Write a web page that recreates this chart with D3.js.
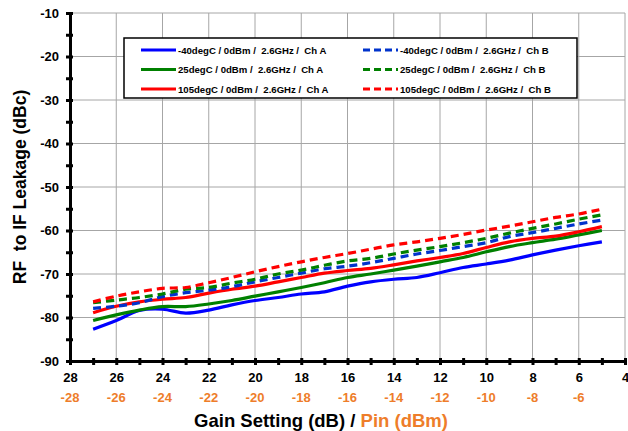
<!DOCTYPE html>
<html>
<head>
<meta charset="utf-8">
<script src="https://cdn.jsdelivr.net/npm/d3@7"></script>
<style>
  body { margin: 0; background: #fff; }
  svg { font-family: Arial, "Liberation Sans", sans-serif; font-weight: bold; }
</style>
</head>
<body>
<div id="chart"></div>
<script>
// gain setting steps (dB), left to right
const gain = [27, 26, 25, 24, 23, 22, 21, 20, 19, 18, 17, 16, 15, 14, 13, 12, 11, 10, 9, 8, 7, 6, 5];

const blueA  = [-82.7, -80.7, -78.4, -78.1, -79.0, -78.3, -77.1, -76.1, -75.4, -74.6, -74.1, -72.8, -71.8, -71.2, -70.8, -69.7, -68.5, -67.7, -66.8, -65.6, -64.5, -63.5, -62.6];
const greenA = [-80.7, -79.4, -78.3, -77.5, -77.5, -76.9, -76.1, -75.1, -74.1, -73.1, -72.0, -70.8, -70.0, -69.1, -68.2, -67.2, -66.2, -64.9, -63.7, -62.8, -62.0, -61.0, -60.0];
const redA   = [-78.9, -77.4, -76.4, -75.8, -75.4, -74.4, -73.5, -72.8, -71.8, -70.8, -69.8, -69.2, -68.7, -67.9, -67.0, -66.2, -65.3, -63.9, -62.6, -61.8, -61.3, -60.3, -59.1];
const blueB  = [-77.9, -77.4, -76.6, -75.2, -74.3, -73.7, -72.9, -71.8, -70.8, -69.8, -68.8, -68.2, -67.4, -66.4, -65.4, -64.6, -63.7, -62.8, -61.4, -60.5, -59.5, -58.5, -57.6];
const greenB = [-76.6, -76.0, -75.4, -74.6, -73.5, -73.1, -72.1, -71.2, -70.0, -69.1, -68.0, -67.0, -66.4, -65.4, -64.5, -63.7, -62.8, -61.8, -60.6, -59.5, -58.5, -57.4, -56.4];
const redB   = [-76.4, -75.1, -74.1, -73.3, -73.1, -72.0, -70.8, -69.5, -68.3, -67.2, -66.2, -65.3, -64.3, -63.3, -62.6, -61.8, -60.9, -59.9, -59.0, -58.0, -57.0, -56.2, -55.1];

const xTicks = [28, 26, 24, 22, 20, 18, 16, 14, 12, 10, 8, 6, 4];
const pinTicks = [-28, -26, -24, -22, -20, -18, -16, -14, -12, -10, -8, -6];
const yTicks = [-10, -20, -30, -40, -50, -60, -70, -80, -90];

const seriesNames = [
  "-40degC / 0dBm /  2.6GHz /  Ch A", "25degC / 0dBm /  2.6GHz /  Ch A", "105degC / 0dBm /  2.6GHz /  Ch A",
  "-40degC / 0dBm /  2.6GHz /  Ch B", "25degC / 0dBm /  2.6GHz /  Ch B", "105degC / 0dBm /  2.6GHz /  Ch B"
];
const seriesValues = [blueA, greenA, redA, blueB, greenB, redB];
const seriesColors = ["#0000ff", "#008000", "#ff0000", "#0033cc", "#008000", "#ff0000"];
const seriesDashed = [false, false, false, true, true, true];

const W = 628, H = 431;
const margin = { top: 13, right: 3, bottom: 70, left: 70 };
const orange = "#ee7d2a";

const svg = d3.select("#chart").append("svg")
  .attr("width", W).attr("height", H);

const x = d3.scaleLinear().domain([28, 4]).range([margin.left, W - margin.right]);
const y = d3.scaleLinear().domain([-90, -10]).range([H - margin.bottom, margin.top]);

// grid
svg.append("g").selectAll("line").data(xTicks.slice(1))
  .join("line")
  .attr("x1", d => x(d)).attr("x2", d => x(d))
  .attr("y1", y(-10)).attr("y2", y(-90))
  .attr("stroke", "#a6a6a6").attr("stroke-width", 1);
svg.append("g").selectAll("line").data(yTicks.slice(0, -1))
  .join("line")
  .attr("x1", x(28)).attr("x2", x(4))
  .attr("y1", d => y(d)).attr("y2", d => y(d))
  .attr("stroke", "#a6a6a6").attr("stroke-width", 1);

// series
const line = d3.line()
  .x((d, i) => x(gain[i]))
  .y(d => y(d))
  .curve(d3.curveCatmullRom.alpha(0.5));

seriesValues.forEach((vals, i) => {
  svg.append("path")
    .datum(vals)
    .attr("d", line)
    .attr("fill", "none")
    .attr("stroke", seriesColors[i])
    .attr("stroke-width", 3.2)
    .attr("stroke-dasharray", seriesDashed[i] ? "8,5" : null);
});

// axes
const yAxis = svg.append("g")
  .attr("transform", `translate(${x(28)},0)`)
  .call(d3.axisLeft(y).tickValues(d3.range(-90, -9, 5)).tickSize(4)
    .tickFormat(d => yTicks.includes(d) ? d : ""));
yAxis.select(".domain").attr("stroke", "#000").attr("stroke-width", 3);
yAxis.selectAll(".tick line").attr("stroke-width", 3).attr("x2", -4).attr("x1", 3);
yAxis.selectAll("text").attr("x", -11).attr("font-size", 13).attr("font-weight", "bold")
  .attr("font-family", "Arial, 'Liberation Sans', sans-serif");

const xAxis = svg.append("g")
  .attr("transform", `translate(0,${y(-90)})`)
  .call(d3.axisBottom(x).tickValues(d3.range(28, 3, -1)).tickSize(4)
    .tickFormat(d => xTicks.includes(d) ? d : ""));
xAxis.select(".domain").attr("stroke", "#000").attr("stroke-width", 3);
xAxis.selectAll(".tick line").attr("stroke-width", 3).attr("y1", -3).attr("y2", 4);
xAxis.selectAll("text").attr("y", 12).attr("font-size", 13).attr("font-weight", "bold")
  .attr("font-family", "Arial, 'Liberation Sans', sans-serif");

// Pin labels
svg.append("g").selectAll("text").data(pinTicks)
  .join("text")
  .attr("x", (d, i) => x(xTicks[i]))
  .attr("y", 402)
  .attr("text-anchor", "middle")
  .attr("font-size", 13)
  .attr("fill", orange)
  .text(d => d);

// axis titles
const xt = svg.append("text")
  .attr("x", 321).attr("y", 427)
  .attr("text-anchor", "middle")
  .attr("font-size", 18.5);
xt.append("tspan").attr("fill", "#000").text("Gain Setting (dB) / ");
xt.append("tspan").attr("fill", orange).text("Pin (dBm)");

svg.append("text")
  .attr("transform", `translate(26,${(y(-10) + y(-90)) / 2}) rotate(-90)`)
  .attr("text-anchor", "middle")
  .attr("font-size", 17.5)
  .attr("xml:space", "preserve")
  .text("RF  to IF Leakage (dBc)");

// legend
const lg = svg.append("g");
lg.append("rect")
  .attr("x", 124).attr("y", 38).attr("width", 453).attr("height", 60)
  .attr("fill", "#fff").attr("stroke", "#000").attr("stroke-width", 1.5);
seriesNames.forEach((name, i) => {
  const col = Math.floor(i / 3), row = i % 3;
  const lx = col === 0 ? 141 : 363;
  const ly = 50 + row * 19.5;
  lg.append("line")
    .attr("x1", lx).attr("x2", lx + 35)
    .attr("y1", ly).attr("y2", ly)
    .attr("stroke", seriesColors[i]).attr("stroke-width", 3)
    .attr("stroke-dasharray", seriesDashed[i] ? "7,4" : null);
  lg.append("text")
    .attr("x", lx + 37).attr("y", ly + 3.5)
    .attr("font-size", 9.6)
    .attr("xml:space", "preserve")
    .text(name);
});
</script>
</body>
</html>
